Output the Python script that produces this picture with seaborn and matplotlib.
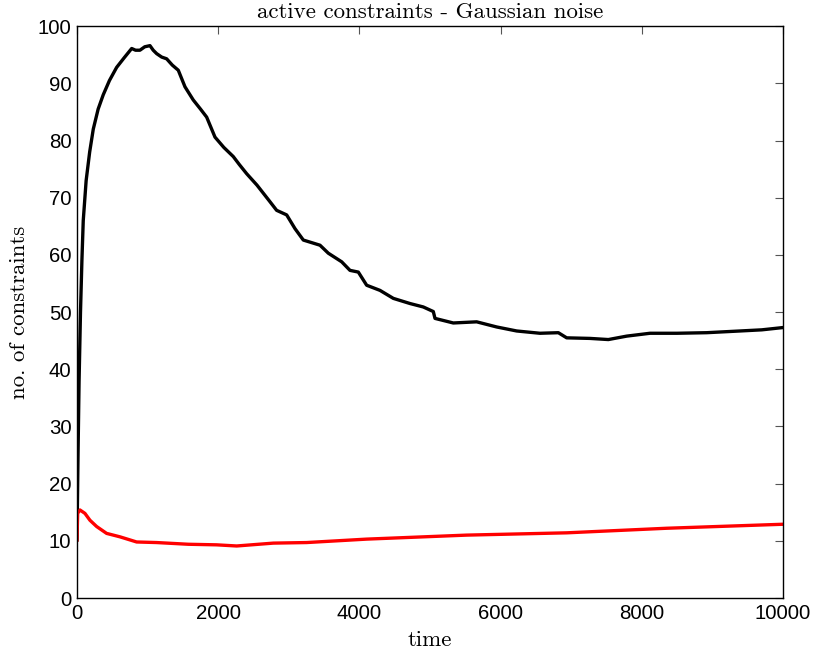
import numpy as np
import pandas as pd
import matplotlib
matplotlib.use("Agg")
import matplotlib.pyplot as plt
import seaborn as sns

# values
t_all = [0, 15, 30, 50, 70, 89, 130, 180, 231, 300, 372, 460, 562, 670, 775, 830,
         892, 960, 1034, 1080, 1129, 1200, 1270, 1350, 1435, 1530, 1647, 1750, 1837,
         1955, 2080, 2214, 2300, 2404, 2550, 2734, 2828, 2970, 3088, 3206, 3442, 3560,
         3749, 3867, 3985, 4103, 4292, 4481, 4717, 4905, 5047, 5071, 5330, 5661, 5945,
         6228, 6558, 6818, 6936, 7266, 7526, 7786, 8116, 8500, 8919, 9391, 9700, 10000]
active_all = [10, 25, 38, 50, 59, 66, 73, 78, 82, 85.5, 88, 90.5, 92.8, 94.5, 96.1, 95.8,
              95.8, 96.4, 96.6, 95.8, 95.2, 94.6, 94.3, 93.2, 92.3, 89.4, 87.1, 85.5, 84.1,
              80.6, 78.8, 77.2, 75.8, 74.2, 72.2, 69.3, 67.8, 67.0, 64.6, 62.6, 61.7, 60.3,
              58.8, 57.3, 57.0, 54.7, 53.8, 52.4, 51.5, 50.9, 50.1, 48.9, 48.1, 48.3, 47.4,
              46.7, 46.3, 46.4, 45.5, 45.4, 45.2, 45.8, 46.3, 46.3, 46.4, 46.7, 46.9, 47.3]

t_gauss = [0, 10, 42, 113, 184, 279, 420, 609, 845, 1128, 1577, 1978, 2262, 2781, 3253,
           4103, 5519, 6936, 8352, 10000]
active_gauss = [10.0, 14.8, 15.4, 14.8, 13.6, 12.5, 11.3, 10.7, 9.8, 9.7, 9.4, 9.3, 9.1,
                9.6, 9.7, 10.3, 11.0, 11.4, 12.2, 12.9]

sns.set_style("white")
plt.rcParams["font.family"] = ["Liberation Sans", "DejaVu Sans"]

fig = plt.figure(figsize=(8.17, 6.55), dpi=100)
ax = fig.add_axes([0.0942, 0.087, 0.8642, 0.873])

sns.lineplot(x=t_all, y=active_all, ax=ax, color="black", linewidth=2.4)
sns.lineplot(x=t_gauss, y=active_gauss, ax=ax, color="red", linewidth=2.4)

ax.set_xlim(0, 10000)
ax.set_ylim(0, 100)
ax.set_xticks(range(0, 10001, 2000))
ax.set_yticks(range(0, 101, 10))
ax.tick_params(direction="in", length=6, width=0.8, labelsize=14.7, color="#555555",
               labelcolor="black", top=True, right=True, pad=4)
for s in ax.spines.values():
    s.set_color("black")
    s.set_linewidth(1.0)

serif = dict(family="cmr10", fontsize=16.5, color="black")
ax.set_title("active constraints - Gaussian noise", pad=6, **serif)
ax.set_xlabel("time", labelpad=6, **serif)
ax.set_ylabel("no. of constraints", labelpad=6, **serif)

fig.savefig("out.png", dpi=100)
